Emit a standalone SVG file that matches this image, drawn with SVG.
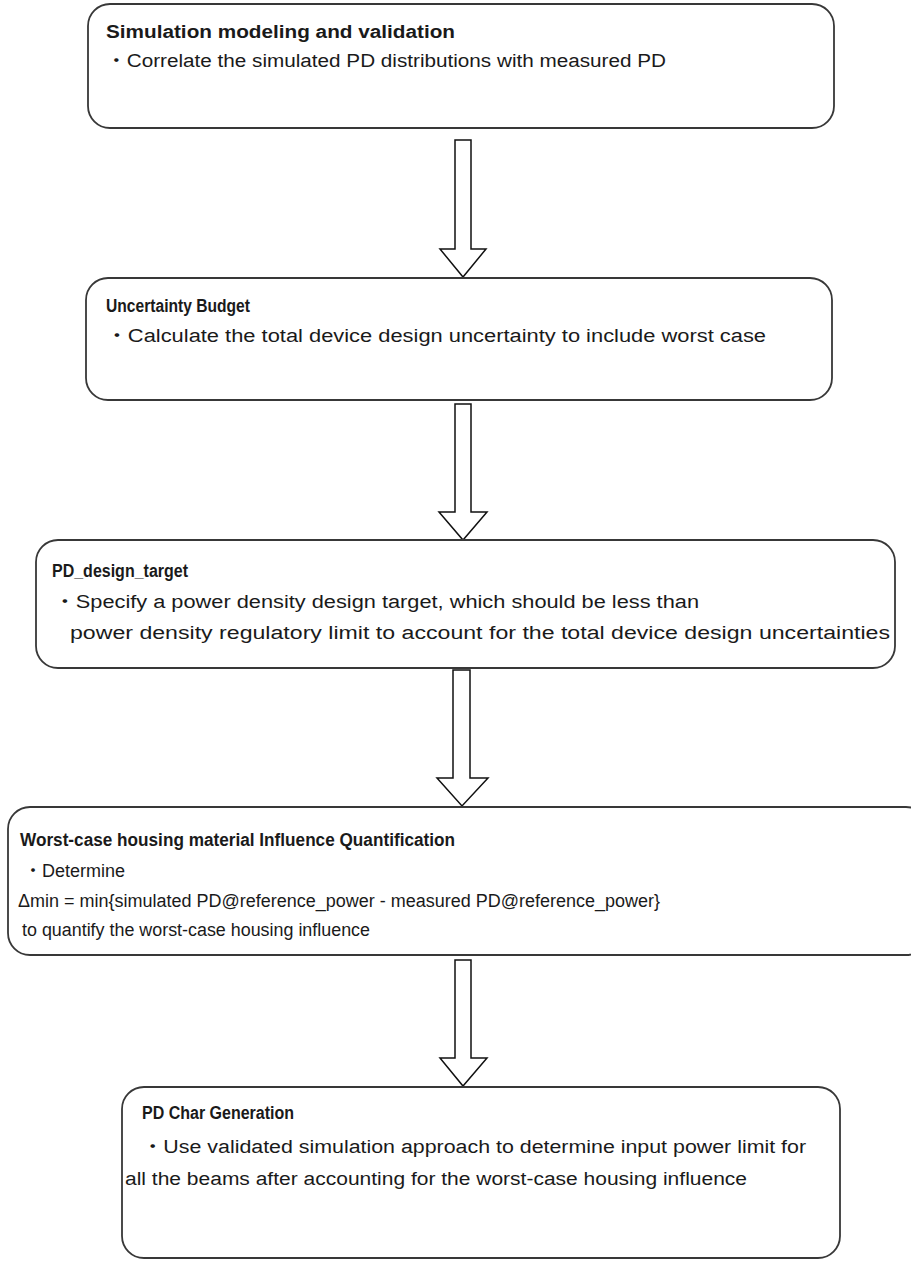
<svg xmlns="http://www.w3.org/2000/svg" width="911" height="1263" viewBox="0 0 911 1263">
<style>
.box{fill:#fff;stroke:#383838;stroke-width:1.8}
.arr{fill:#fff;stroke:#111;stroke-width:1.5;stroke-linejoin:miter}
text{font-family:"Liberation Sans","Noto Sans CJK JP",sans-serif;font-size:18px;fill:#1a1a1a}
.t{font-weight:bold}
</style>
<rect width="911" height="1263" fill="#fff"/>
<g id="connectors">
<polygon class="arr" points="455,140 471,140 471,249 486,249 463,277 440,249 455,249"/>
<polygon class="arr" points="455,404 471,404 471,512 487,512 463,540 439,512 455,512"/>
<polygon class="arr" points="453,670 470,670 470,778 488,778 462,806 437,778 453,778"/>
<polygon class="arr" points="455,960 471,960 471,1058 487,1058 463,1086 440,1058 455,1058"/>
</g>
<g id="n1">
<rect class="box" x="88" y="4" width="746" height="124" rx="22"/>
<text class="t" x="106" y="38" textLength="349" lengthAdjust="spacingAndGlyphs">Simulation modeling and validation</text>
<text x="106" y="67" textLength="560" lengthAdjust="spacingAndGlyphs">・Correlate the simulated PD distributions with measured PD</text>
</g>
<g id="n2">
<rect class="box" x="86" y="278" width="746" height="122" rx="22"/>
<text class="t" x="106" y="312" textLength="144" lengthAdjust="spacingAndGlyphs">Uncertainty Budget</text>
<text x="106" y="342" textLength="660" lengthAdjust="spacingAndGlyphs">・Calculate the total device design uncertainty to include worst case</text>
</g>
<g id="n3">
<rect class="box" x="36" y="540" width="859" height="128" rx="22"/>
<text class="t" x="52" y="577" textLength="136" lengthAdjust="spacingAndGlyphs">PD_design_target</text>
<text x="54" y="608" textLength="645" lengthAdjust="spacingAndGlyphs">・Specify a power density design target, which should be less than</text>
<text x="70" y="639" textLength="820" lengthAdjust="spacingAndGlyphs">power density regulatory limit to account for the total device design uncertainties</text>
</g>
<g id="n4">
<rect class="box" x="8" y="807" width="920" height="148" rx="22"/>
<text class="t" x="20" y="846" textLength="435" lengthAdjust="spacingAndGlyphs">Worst-case housing material Influence Quantification</text>
<text x="24" y="877">・Determine</text>
<text x="18" y="907" textLength="642" lengthAdjust="spacingAndGlyphs">Δmin = min{simulated PD@reference_power - measured PD@reference_power}</text>
<text x="22" y="936" textLength="348" lengthAdjust="spacingAndGlyphs">to quantify the worst-case housing influence</text>
</g>
<g id="n5">
<rect class="box" x="122" y="1087" width="718" height="171" rx="22"/>
<text class="t" x="142" y="1119" textLength="152" lengthAdjust="spacingAndGlyphs">PD Char Generation</text>
<text x="142" y="1153" textLength="664" lengthAdjust="spacingAndGlyphs">・Use validated simulation approach to determine input power limit for</text>
<text x="125" y="1185" textLength="622" lengthAdjust="spacingAndGlyphs">all the beams after accounting for the worst-case housing influence</text>
</g>
</svg>
